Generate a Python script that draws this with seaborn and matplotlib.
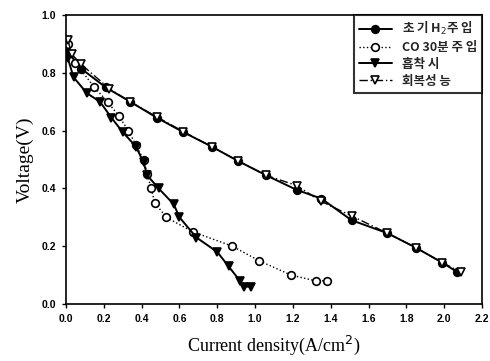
import matplotlib
matplotlib.use("Agg")
import matplotlib.pyplot as plt
import seaborn as sns
import pandas as pd

# Data
init_x = [0.00, 0.08, 0.21, 0.34, 0.48, 0.62, 0.77, 0.91, 1.06, 1.22, 1.35, 1.51, 1.70, 1.85, 1.99, 2.07]
init_y = [0.88, 0.815, 0.75, 0.70, 0.645, 0.595, 0.545, 0.495, 0.445, 0.395, 0.365, 0.29, 0.245, 0.195, 0.143, 0.11]

co_x = [0.01, 0.05, 0.15, 0.22, 0.28, 0.33, 0.37, 0.41, 0.43, 0.45, 0.47, 0.53, 0.67, 0.88, 1.02, 1.19, 1.32, 1.38]
co_y = [0.90, 0.835, 0.75, 0.70, 0.65, 0.60, 0.55, 0.50, 0.45, 0.40, 0.35, 0.30, 0.25, 0.20, 0.15, 0.10, 0.08, 0.08]

ads_x = [0.01, 0.04, 0.11, 0.18, 0.24, 0.30, 0.37, 0.41, 0.43, 0.49, 0.57, 0.60, 0.69, 0.80, 0.86, 0.92, 0.94, 0.98]
ads_y = [0.85, 0.785, 0.73, 0.70, 0.645, 0.595, 0.545, 0.49, 0.445, 0.40, 0.345, 0.30, 0.23, 0.18, 0.13, 0.08, 0.06, 0.06]

rec_x = [0.01, 0.03, 0.08, 0.23, 0.34, 0.48, 0.62, 0.77, 0.91, 1.06, 1.22, 1.35, 1.51, 1.70, 1.85, 1.99, 2.09]
rec_y = [0.915, 0.865, 0.83, 0.745, 0.70, 0.648, 0.597, 0.545, 0.495, 0.445, 0.41, 0.355, 0.305, 0.245, 0.195, 0.143, 0.11]

labels = ["초 기 H$_2$주 입", "CO 30분 주 입", "흡착 시", "회복성 능"]
x_ticks = [0.0, 0.2, 0.4, 0.6, 0.8, 1.0, 1.2, 1.4, 1.6, 1.8, 2.0, 2.2]
y_ticks = [0.0, 0.2, 0.4, 0.6, 0.8, 1.0]

sns.set_theme(style="ticks")
plt.rcParams['font.family'] = ['Noto Sans CJK KR', 'DejaVu Sans']

fig = plt.figure(figsize=(4.9, 3.61), dpi=100)
ax = fig.add_axes([0.1347, 0.158, 0.849, 0.800])

series = [
    (init_x, init_y, labels[0], dict(linestyle='-', marker='o', markerfacecolor='black', linewidth=1.4)),
    (co_x, co_y, labels[1], dict(linestyle=':', marker='o', markerfacecolor='white', linewidth=1.0)),
    (ads_x, ads_y, labels[2], dict(linestyle='-', marker='v', markerfacecolor='black', linewidth=1.4)),
    (rec_x, rec_y, labels[3], dict(linestyle=(0, (6, 2, 1, 2)), marker='v', markerfacecolor='white', linewidth=1.0)),
]
for xs, ys, lab, kw in series:
    df = pd.DataFrame({"x": xs, "y": ys})
    sns.lineplot(data=df, x="x", y="y", sort=False, ax=ax, color='black', label=lab,
                 markersize=5.5, markeredgecolor='black', markeredgewidth=1.2, **kw)

ax.set_xlim(0, 2.2)
ax.set_ylim(0, 1.0)
ax.set_xticks(x_ticks)
ax.set_yticks(y_ticks)
ax.set_xticklabels([f"{t:.1f}" for t in x_ticks], fontfamily='Liberation Sans', fontsize=7.5, fontweight='bold')
ax.set_yticklabels([f"{t:.1f}" for t in y_ticks], fontfamily='Liberation Sans', fontsize=7.5, fontweight='bold')
ax.tick_params(direction='out', length=3, width=1, colors='black', pad=4)
ax.set_xlabel("Current density(A/cm$^2$)", fontfamily='Liberation Serif', fontsize=13, color='black', labelpad=7)
ax.set_ylabel("Voltage(V)", fontfamily='Liberation Serif', fontsize=14, color='black', labelpad=6)
for s in ax.spines.values():
    s.set_visible(True)
    s.set_color('black')
    s.set_linewidth(1.2)

leg = ax.legend(loc='upper right', frameon=True, fancybox=False, edgecolor='black',
                prop={'family': ['Noto Sans CJK KR', 'DejaVu Sans'], 'size': 9, 'weight': 'bold'},
                handlelength=2.6, borderpad=0.4, labelspacing=0.3, handletextpad=0.8,
                borderaxespad=0.0)
leg.get_frame().set_linewidth(1.5)

fig.savefig("out.png", dpi=100)
